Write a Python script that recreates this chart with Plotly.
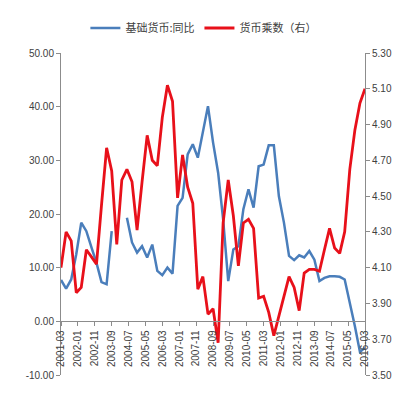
import plotly.graph_objects as go

# Quarterly dates 2001-03 .. 2016-03
dates = [f"{2001 + (2 + 3 * i) // 12}-{(2 + 3 * i) % 12 + 1:02d}-01" for i in range(61)]

base_money_yoy = [
    7.7, 6.1, 7.8, 12.5, 18.4, 16.8, 13.8, 10.9, 7.3, 6.9,
    16.8, None, None, 19.3, 14.7, 12.8, 14.0, 11.9, 14.3, 9.4,
    8.6, 10.0, 8.9, 21.5, 23.0, 31.1, 33.0, 30.5, 35.1, 40.1,
    33.3, 27.7, 19.0, 7.5, 13.4, 14.0, 20.9, 24.6, 21.2, 28.9,
    29.2, 32.8, 32.8, 23.3, 18.4, 12.2, 11.4, 12.3, 11.9, 13.1,
    11.5, 7.5, 8.1, 8.4, 8.4, 8.3, 7.8, 3.5, -0.9, -5.7,
    -4.9,
]

money_multiplier = [
    4.10, 4.30, 4.25, 3.96, 3.99, 4.20, 4.16, 4.12, 4.45, 4.77,
    4.64, 4.23, 4.59, 4.65, 4.58, 4.31, 4.58, 4.84, 4.70, 4.67,
    4.94, 5.12, 5.03, 4.49, 4.73, 4.55, 4.46, 3.98, 4.05, 3.84,
    3.87, 3.68, 4.35, 4.59, 4.39, 4.11, 4.35, 4.37, 4.32, 3.93,
    3.94, 3.85, 3.72, 3.83, 3.95, 4.05, 3.99, 3.86, 4.07, 4.09,
    4.09, 4.08, 4.20, 4.32, 4.21, 4.18, 4.30, 4.65, 4.87, 5.02,
    5.10,
]

tick_labels = ["2001-03", "2002-01", "2002-11", "2003-09", "2004-07", "2005-05",
               "2006-03", "2007-01", "2007-11", "2008-09", "2009-07", "2010-05",
               "2011-03", "2012-01", "2012-11", "2013-09", "2014-07", "2015-05",
               "2016-03"]
tick_vals = [t + "-01" for t in tick_labels]

left_ticks = [-10, 0, 10, 20, 30, 40, 50]
left_labels = ["-10.00", "0.00", "10.00", "20.00", "30.00", "40.00", "50.00"]

name_blue = "基础货币:同比"
name_red = "货币乘数（右）"

fig = go.Figure()
fig.add_trace(go.Scatter(x=dates, y=base_money_yoy, name=name_blue, mode="lines",
                         line=dict(color="#4A7EBB", width=2.5), connectgaps=False,
                         yaxis="y"))
fig.add_trace(go.Scatter(x=dates, y=money_multiplier, name=name_red, mode="lines",
                         line=dict(color="#E8101A", width=2.8), yaxis="y2"))

axis_font = dict(family="Liberation Sans, Arial, sans-serif", size=10, color="#404040")

fig.update_layout(
    width=410, height=388,
    margin=dict(l=53, r=53, t=45, b=21, autoexpand=False),
    paper_bgcolor="white", plot_bgcolor="white",
    showlegend=True,
    legend=dict(orientation="h", x=0.47, xanchor="center", y=1 - 20 / 388, yanchor="middle",
                yref="container", font=dict(family="Noto Sans CJK SC", size=11, color="#404040"),
                itemwidth=30, tracegroupgap=0),
    xaxis=dict(type="date", range=["2001-03-01", "2016-03-01"],
               tickvals=tick_vals, ticktext=tick_labels, tickangle=-90,
               anchor="free", position=1 / 6,
               showline=True, linecolor="#8C8C8C", linewidth=1,
               ticks="outside", ticklen=4, tickcolor="#8C8C8C",
               showgrid=False, zeroline=False, tickfont=axis_font),
    yaxis=dict(range=[-10, 50], tickvals=left_ticks, ticktext=left_labels,
               showline=True, linecolor="#8C8C8C", linewidth=1,
               ticks="outside", ticklen=4, tickcolor="#8C8C8C",
               showgrid=False, zeroline=False, tickfont=axis_font),
    yaxis2=dict(range=[3.5, 5.3], dtick=0.2, tick0=3.5, tickformat=".2f",
                overlaying="y", side="right",
                showline=True, linecolor="#8C8C8C", linewidth=1,
                ticks="outside", ticklen=4, tickcolor="#8C8C8C",
                showgrid=False, zeroline=False, tickfont=axis_font),
)

fig.write_html("out.html")
